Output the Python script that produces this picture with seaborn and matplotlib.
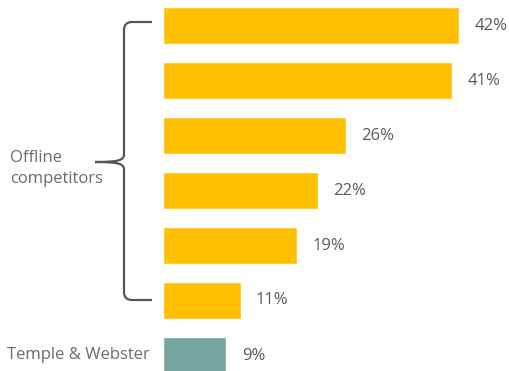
import matplotlib
matplotlib.use("Agg")
import matplotlib.pyplot as plt
import seaborn as sns
import pandas as pd
from matplotlib.path import Path
from matplotlib.patches import PathPatch

categories = ["c1", "c2", "c3", "c4", "c5", "c6", "Temple & Webster"]
values = [42, 41, 26, 22, 19, 11, 9]
groups = ["Offline", "Offline", "Offline", "Offline", "Offline", "Offline", "TW"]
value_labels = ["42%", "41%", "26%", "22%", "19%", "11%", "9%"]
palette = {"Offline": "#FFC000", "TW": "#76A5A0"}

df = pd.DataFrame({"cat": categories, "val": values, "grp": groups})

sns.set_theme(style="white")
plt.rcParams["font.family"] = ["Open Sans", "DejaVu Sans"]

W, H = 510, 371
fig = plt.figure(figsize=(W / 100, H / 100), dpi=100)
ax = fig.add_axes([163 / W, 0, 1 - 163 / W, 1])

sns.barplot(data=df, x="val", y="cat", hue="grp", palette=palette,
            orient="h", width=0.67, dodge=False, legend=False, ax=ax,
            saturation=1)

i = 0
for cont in ax.containers:
    n = len(cont.patches)
    ax.bar_label(cont, labels=value_labels[i:i + n], padding=11,
                 color="#5a5a5a", fontsize=12)
    i += n

ax.set_xlim(0, (W - 163) / 7.05)
ax.set_ylim((H - 25.5) / 55, -25.5 / 55)
ax.set_xlabel("")
ax.set_ylabel("")
ax.set_xticks([])
ax.set_yticks([])
for s in ax.spines.values():
    s.set_visible(False)

def fp(x, y):
    return (x / W, 1 - y / H)

verts = [fp(152, 22), fp(132, 22), fp(124, 22), fp(124, 30),
         fp(124, 154),
         fp(124, 160), fp(120, 162), fp(95, 162),
         fp(120, 162), fp(124, 164), fp(124, 170),
         fp(124, 292),
         fp(124, 300), fp(132, 300), fp(152, 300)]
codes = [Path.MOVETO, Path.LINETO, Path.CURVE3, Path.CURVE3,
         Path.LINETO,
         Path.CURVE4, Path.CURVE4, Path.CURVE4,
         Path.CURVE4, Path.CURVE4, Path.CURVE4,
         Path.LINETO,
         Path.CURVE3, Path.CURVE3, Path.LINETO]
patch = PathPatch(Path(verts, codes), transform=fig.transFigure,
                  facecolor="none", edgecolor="#555555", lw=1.6)
fig.patches.append(patch)

fig.text(10 / W, 1 - 158 / H, "Offline", color="#6b6b6b", fontsize=12, va="center", ha="left")
fig.text(10 / W, 1 - 179 / H, "competitors", color="#6b6b6b", fontsize=12, va="center", ha="left")
fig.text(7 / W, 1 - 355 / H, "Temple & Webster", color="#6b6b6b", fontsize=12, va="center", ha="left")

fig.savefig("out.png", dpi=100)
